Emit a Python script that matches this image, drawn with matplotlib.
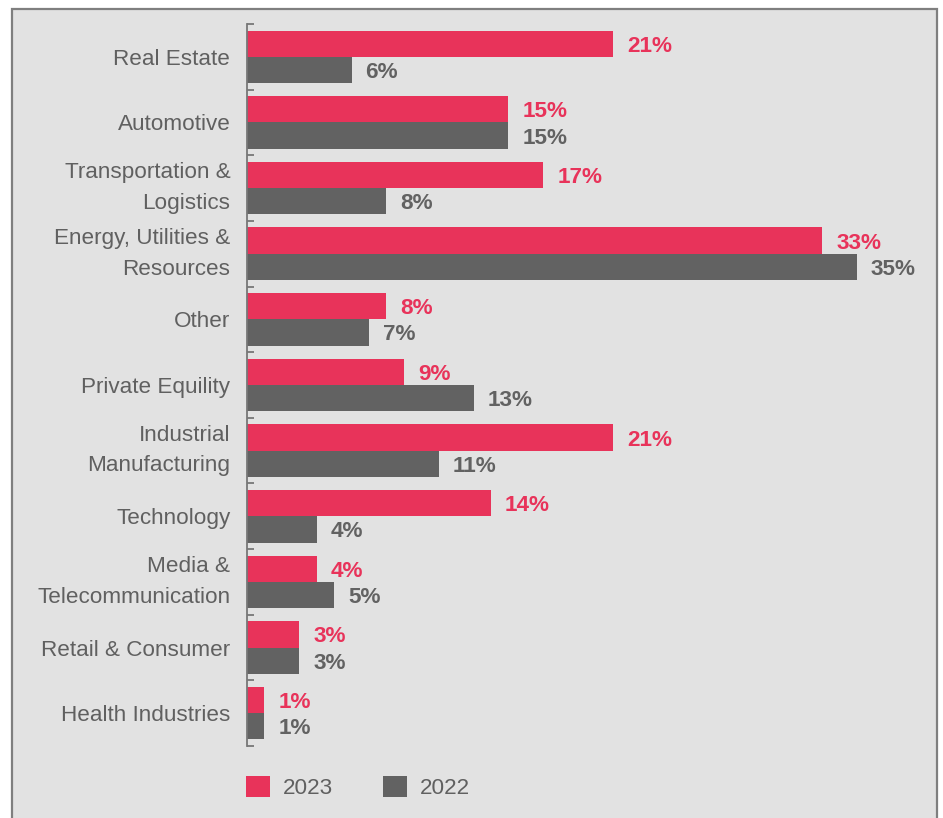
import numpy as np
import matplotlib
matplotlib.use("Agg")
import matplotlib.pyplot as plt
from matplotlib.patches import Rectangle, Patch

plt.rcParams['font.family'] = ['Liberation Sans', 'DejaVu Sans']

# sector shares, top to bottom
sectors = ["Real Estate", "Automotive", "Transportation &\nLogistics",
           "Energy, Utilities &\nResources", "Other", "Private Equility",
           "Industrial\nManufacturing", "Technology", "Media &\nTelecommunication",
           "Retail & Consumer", "Health Industries"]
share_2023 = [21, 15, 17, 33, 8, 9, 21, 14, 4, 3, 1]
share_2022 = [6, 15, 8, 35, 7, 13, 11, 4, 5, 3, 1]
years = ["2023", "2022"]

PINK = "#e8335a"
GREY = "#626262"
TXT = "#606060"
FS = 16.2

fig = plt.figure(figsize=(9.43, 8.18), dpi=100)
fig.patch.set_facecolor("white")

# grey panel with a border on top, left and right
fig.patches.append(Rectangle((12 / 943, -0.05), (937 - 12) / 943, 1.05 - 9 / 818,
                             transform=fig.transFigure, facecolor="#e2e2e2",
                             edgecolor="#7f7f7f", linewidth=1.6, zorder=-5))

ax = fig.add_axes([247 / 943, 1 - 746 / 818, (937 - 247) / 943, (746 - 24) / 818])
ax.set_facecolor("none")
ax.set_zorder(2)

n = len(sectors)
y = np.arange(n)
h = 0.4
ax.barh(y - h / 2, share_2023, height=h, color=PINK, align="center", label=years[0])
ax.barh(y + h / 2, share_2022, height=h, color=GREY, align="center", label=years[1])

for i in range(n):
    ax.text(share_2023[i] + 0.8, y[i] - h / 2, f"{share_2023[i]}%", color=PINK,
            fontsize=FS, fontweight="bold", va="center_baseline", ha="left")
    ax.text(share_2022[i] + 0.8, y[i] + h / 2, f"{share_2022[i]}%", color=GREY,
            fontsize=FS, fontweight="bold", va="center_baseline", ha="left")

ax.set_xlim(0, 690 / 17.43)
ax.set_ylim(n - 0.5, -0.5)

ax.set_yticks(y)
ax.set_yticklabels(sectors, fontsize=FS, color=TXT, linespacing=1.6)
for lbl in ax.get_yticklabels():
    if "\n" in lbl.get_text():
        lbl.set_va("center")
ax.tick_params(axis="y", which="major", length=0, pad=12)
ax.set_yticks(np.arange(n + 1) - 0.5, minor=True)
ax.tick_params(axis="y", which="minor", direction="in", length=5, width=1.3, color="#777777")
ax.set_xticks([])

for s in ["top", "right", "bottom"]:
    ax.spines[s].set_visible(False)
ax.spines["left"].set_color("#777777")
ax.spines["left"].set_linewidth(1.3)

handles = [Patch(facecolor=PINK, label=years[0]), Patch(facecolor=GREY, label=years[1])]
leg = fig.legend(handles=handles, loc="upper left", ncol=2, frameon=False,
                 bbox_to_anchor=(246 / 943, 1 - 776 / 818), bbox_transform=fig.transFigure,
                 borderaxespad=0, borderpad=0, fontsize=FS, handlelength=1.05,
                 handleheight=1.05, handletextpad=0.6, columnspacing=2.2)
for t in leg.get_texts():
    t.set_color(TXT)

fig.savefig("out.png", dpi=100, facecolor=fig.get_facecolor())
